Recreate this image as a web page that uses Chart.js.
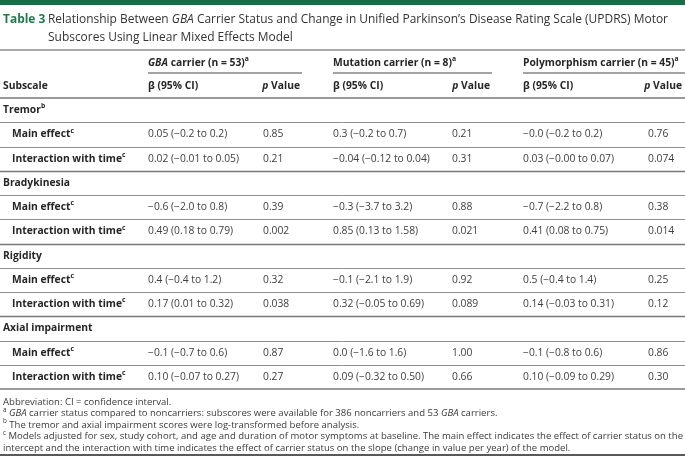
<!DOCTYPE html>
<html><head><meta charset="utf-8">
<script src="https://cdn.jsdelivr.net/npm/chart.js@4.4.1/dist/chart.umd.min.js"></script>
<style>html,body{margin:0;padding:0;background:#fff;}#wrap{width:685px;height:456px;}</style>
</head><body><div id="wrap"><canvas id="c" width="685" height="456"></canvas></div>
<script>
// ---------------- data ----------------
const tableNumber = 'Table 3';
const titleLine1 = [['Relationship Between ',''],['GBA','i'],[' Carrier Status and Change in Unified Parkinson\u2019s Disease Rating Scale (UPDRS) Motor','']];
const titleLine2 = 'Subscores Using Linear Mixed Effects Model';
const sections = ['Tremor', 'Bradykinesia', 'Rigidity', 'Axial impairment'];
const sectionNotes = ['b', '', '', ''];
const effects = ['Main effect', 'Interaction with time'];
const effectNote = 'c';
const groupNames = ['carrier (n = 53)', 'Mutation carrier (n = 8)', 'Polymorphism carrier (n = 45)'];
const groupItalicPrefix = ['GBA ', '', ''];
const groupNote = 'a';
const colHeaders = ['Subscale', '\u03B2 (95% CI)', 'Value'];
// rows: Tremor main, Tremor interaction, Brady main, Brady interaction, Rigidity main, Rigidity interaction, Axial main, Axial interaction
const gbaBeta  = ['0.05', '0.02', '-0.6', '0.49', '0.4', '0.17', '-0.1', '0.10'];
const gbaLow   = ['-0.2', '-0.01', '-2.0', '0.18', '-0.4', '0.01', '-0.7', '-0.07'];
const gbaHigh  = ['0.2', '0.05', '0.8', '0.79', '1.2', '0.32', '0.6', '0.27'];
const gbaP     = ['0.85', '0.21', '0.39', '0.002', '0.32', '0.038', '0.87', '0.27'];
const mutBeta  = ['0.3', '-0.04', '-0.3', '0.85', '-0.1', '0.32', '0.0', '0.09'];
const mutLow   = ['-0.2', '-0.12', '-3.7', '0.13', '-2.1', '-0.05', '-1.6', '-0.32'];
const mutHigh  = ['0.7', '0.04', '3.2', '1.58', '1.9', '0.69', '1.6', '0.50'];
const mutP     = ['0.21', '0.31', '0.88', '0.021', '0.92', '0.089', '1.00', '0.66'];
const polyBeta = ['-0.0', '0.03', '-0.7', '0.41', '0.5', '0.14', '-0.1', '0.10'];
const polyLow  = ['-0.2', '-0.00', '-2.2', '0.08', '-0.4', '-0.03', '-0.8', '-0.09'];
const polyHigh = ['0.2', '0.07', '0.8', '0.75', '1.4', '0.31', '0.6', '0.29'];
const polyP    = ['0.76', '0.074', '0.38', '0.014', '0.25', '0.12', '0.86', '0.30'];
const footnotes = [
  [['Abbreviation: CI = confidence interval.', '']],
  [['a', 's'], [' ', ''], ['GBA', 'i'], [' carrier status compared to noncarriers: subscores were available for 386 noncarriers and 53 ', ''], ['GBA', 'i'], [' carriers.', '']],
  [['b', 's'], [' The tremor and axial impairment scores were log-transformed before analysis.', '']],
  [['c', 's'], [' Models adjusted for sex, study cohort, and age and duration of motor symptoms at baseline. The main effect indicates the effect of carrier status on the', '']],
  [['intercept and the interaction with time indicates the effect of carrier status on the slope (change in value per year) of the model.', '']]
];

// ---------------- layout / style ----------------
const W = 685, H = 456;
const FONT = '"Open Sans", "Noto Sans", sans-serif';
const BODY = 10.3, TITLE = 13, NOTE = 9.8;
const COL = { section: 3, indent: 12, beta: [148, 333, 523], p: [263, 452, 648], pRight: [300, 490, 682], ruleEnd: [302, 492, 685] };
const C = { green: '#1c6b45', greenText: '#217a4c', text: '#404040', bold: '#262626', rule: '#9a9a9a', thin: '#8e8e8e', dark: '#4a4a4a' };

const rowLabels = [];
const rowKind = [];
const rowIndex = [];
sections.forEach((s, si) => {
  rowLabels.push(s); rowKind.push('section'); rowIndex.push(si);
  effects.forEach((e, ei) => { rowLabels.push(e); rowKind.push('effect'); rowIndex.push(si * 2 + ei); });
});
const groupsData = [
  [gbaBeta, gbaLow, gbaHigh, gbaP],
  [mutBeta, mutLow, mutHigh, mutP],
  [polyBeta, polyLow, polyHigh, polyP]
];
const neg = s => s.replace(/-/g, '\u2212');

function drawRuns(ctx, parts, x, y, o) {
  const size = o.size, sx = o.sx || 1;
  const fontOf = p => {
    const st = p[1] || '';
    const sz = st.includes('s') ? size * 0.66 : size;
    return (st.includes('i') ? 'italic ' : '') + ((st.includes('b') || o.bold) ? 'bold ' : '') + sz + 'px ' + FONT;
  };
  let total = 0;
  const ws = parts.map(p => { ctx.font = fontOf(p); const m = ctx.measureText(p[0]).width; total += m; return m; });
  const start = o.align === 'right' ? x - total * sx : x;
  ctx.save();
  ctx.translate(start, y); ctx.scale(sx, 1);
  ctx.textBaseline = 'middle'; ctx.textAlign = 'left';
  let px = 0;
  parts.forEach((p, k) => {
    ctx.font = fontOf(p);
    ctx.fillStyle = p[2] || o.color;
    ctx.fillText(p[0], px, (p[1] || '').includes('s') ? -size * 0.36 : 0);
    px += ws[k];
  });
  ctx.restore();
  return total * sx;
}
function measureRuns(ctx, parts, size, bold) {
  let t = 0;
  parts.forEach(p => {
    const st = p[1] || '';
    const sz = st.includes('s') ? size * 0.66 : size;
    ctx.font = (st.includes('i') ? 'italic ' : '') + ((st.includes('b') || bold) ? 'bold ' : '') + sz + 'px ' + FONT;
    t += ctx.measureText(p[0]).width;
  });
  return t;
}
function hline(ctx, x0, x1, y, w, color) {
  ctx.save(); ctx.strokeStyle = color; ctx.lineWidth = w;
  ctx.beginPath(); ctx.moveTo(x0, y); ctx.lineTo(x1, y); ctx.stroke(); ctx.restore();
}

const tablePlugin = {
  id: 'tableCells',
  afterDraw(chart) {
    const ctx = chart.ctx, xs = chart.scales.x, ys = chart.scales.y, area = chart.chartArea;
    const step = ys.getPixelForValue(1) - ys.getPixelForValue(0);
    const X = v => xs.getPixelForValue(v);

    // top bar
    ctx.save(); ctx.fillStyle = C.green; ctx.fillRect(X(0), 0, X(W) - X(0), 5); ctx.restore();

    // title
    const titleW = measureRuns(ctx, titleLine1, TITLE, false);
    const tsx = 620 / titleW;
    drawRuns(ctx, [[tableNumber, 'b', C.greenText]], X(3), 19, { size: TITLE, sx: tsx, color: C.greenText });
    drawRuns(ctx, titleLine1, X(48), 19, { size: TITLE, sx: tsx, color: '#333' });
    drawRuns(ctx, [[titleLine2, '']], X(48), 37, { size: TITLE, sx: tsx, color: '#333' });
    hline(ctx, X(0), X(W), 50, 2, '#a8a8a8');

    // header
    const top = area.top;
    const gY = top - 35, ulY = top - 25, hY = top - 12;
    groupNames.forEach((g, k) => {
      const parts = [];
      if (groupItalicPrefix[k]) parts.push([groupItalicPrefix[k], 'i']);
      parts.push([g, '']); parts.push([groupNote, 's']);
      drawRuns(ctx, parts, X(COL.beta[k]), gY, { size: BODY, bold: true, color: C.bold });
      hline(ctx, X(COL.beta[k]), X(COL.ruleEnd[k]), ulY, 1.2, C.dark);
      drawRuns(ctx, [[colHeaders[1], '']], X(COL.beta[k]), hY, { size: BODY, bold: true, color: C.bold });
      drawRuns(ctx, [['p', 'i'], [' ' + colHeaders[2], '']], X(COL.pRight[k]), hY, { size: BODY, bold: true, color: C.bold, align: 'right' });
    });
    drawRuns(ctx, [[colHeaders[0], '']], X(COL.section), hY, { size: BODY, bold: true, color: C.bold });
    hline(ctx, X(0), X(W), top, 2, C.rule);

    // rows
    rowLabels.forEach((lab, r) => {
      const cy = ys.getPixelForValue(r);
      if (rowKind[r] === 'section') {
        const si = rowIndex[r];
        const parts = [[lab, '']];
        if (sectionNotes[si]) parts.push([sectionNotes[si], 's']);
        drawRuns(ctx, parts, X(COL.section), cy, { size: BODY, bold: true, color: C.bold });
      } else {
        const di = rowIndex[r];
        drawRuns(ctx, [[lab, ''], [effectNote, 's']], X(COL.indent), cy, { size: BODY, bold: true, color: C.bold });
        groupsData.forEach((g, k) => {
          const txt = neg(g[0][di]) + ' (' + neg(g[1][di]) + ' to ' + neg(g[2][di]) + ')';
          drawRuns(ctx, [[txt, '']], X(COL.beta[k]), cy, { size: BODY, color: C.text });
          drawRuns(ctx, [[g[3][di], '']], X(COL.p[k]), cy, { size: BODY, color: C.text });
        });
      }
      const ly = ys.getPixelForValue(r) + step / 2;
      if (r < rowLabels.length - 1) {
        const heavy = rowKind[r + 1] === 'section';
        hline(ctx, X(0), X(W), Math.round(ly) + 0.5, heavy ? 1.3 : 1, heavy ? '#777' : C.thin);
      }
    });
    hline(ctx, X(0), X(W), area.bottom, 2, C.rule);

    // footnotes
    const cW = measureRuns(ctx, footnotes[3], NOTE, false);
    const nsx = 680 / cW;
    footnotes.forEach((f, i) => {
      drawRuns(ctx, f, X(3), area.bottom + 13 + i * 11.5, { size: NOTE, sx: nsx, color: '#3a3a3a' });
    });
    hline(ctx, X(0), X(W), H - 1, 1.5, '#222');
  }
};

new Chart(document.getElementById('c'), {
  type: 'bar',
  data: { labels: rowLabels, datasets: [{ data: rowLabels.map(() => null) }] },
  options: {
    indexAxis: 'y',
    responsive: false,
    animation: false,
    events: [],
    layout: { padding: { top: 98, bottom: 67, left: 0, right: 0 } },
    scales: {
      x: { type: 'linear', min: 0, max: W, display: false },
      y: { type: 'category', display: false, offset: true }
    },
    plugins: { legend: { display: false }, tooltip: { enabled: false }, title: { display: false } }
  },
  plugins: [tablePlugin]
});
</script>
</body></html>
